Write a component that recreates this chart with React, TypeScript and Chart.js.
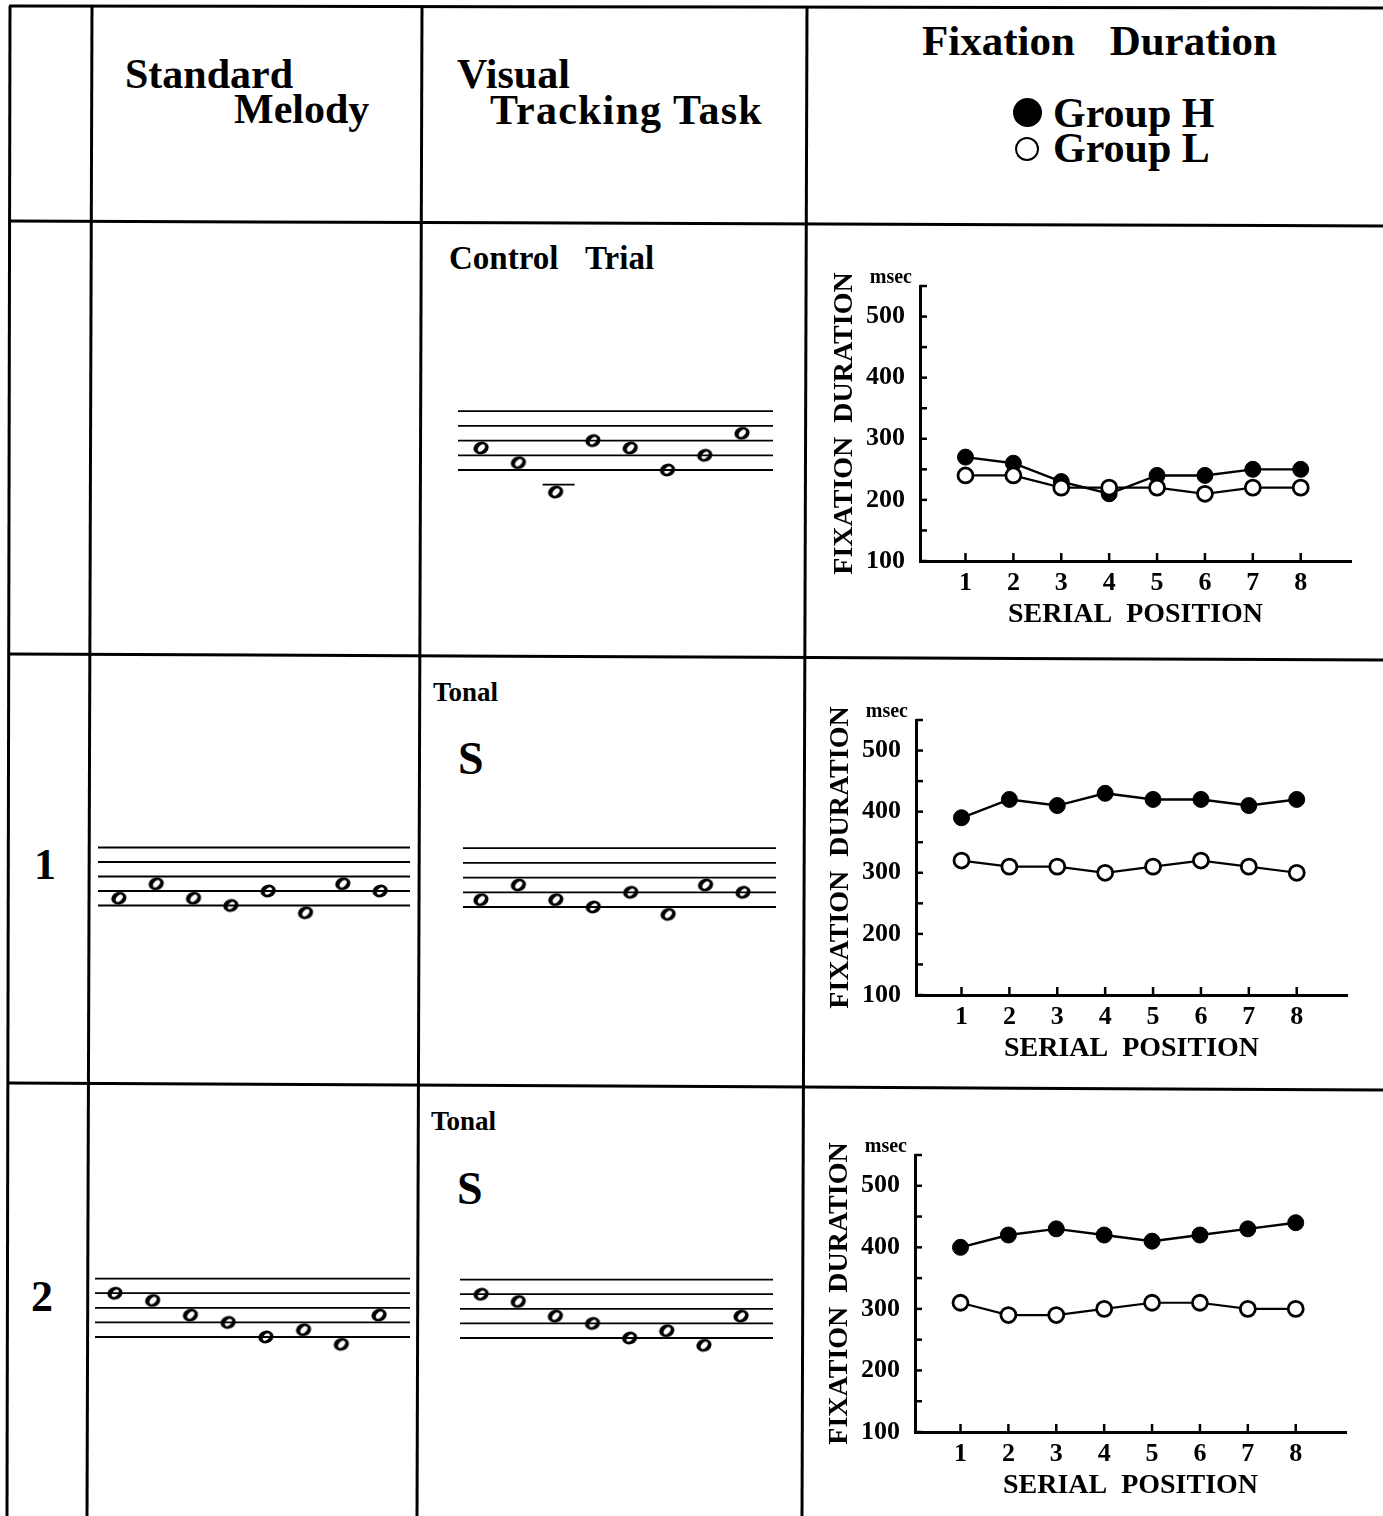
import React, { useEffect, useRef } from "react";
import { Chart, registerables } from "chart.js";

Chart.register(...registerables);

const FONT = '"Liberation Serif", "Times New Roman", Times, serif';

// ---------- Fixation duration data (msec) ----------
const SERIAL_POSITIONS = [1, 2, 3, 4, 5, 6, 7, 8];
const X_TICK_LABELS = ["1", "2", "3", "4", "5", "6", "7", "8"];
const Y_TICK_VALUES = [100, 150, 200, 250, 300, 350, 400, 450, 500, 550];
const Y_TICK_LABELS = ["100", "", "200", "", "300", "", "400", "", "500", ""];

const CONTROL_GROUP_H = [270, 260, 230, 210, 240, 240, 250, 250];
const CONTROL_GROUP_L = [240, 240, 220, 220, 220, 210, 220, 220];
const TRIAL1_GROUP_H = [390, 420, 410, 430, 420, 420, 410, 420];
const TRIAL1_GROUP_L = [320, 310, 310, 300, 310, 320, 310, 300];
const TRIAL2_GROUP_H = [400, 420, 430, 420, 410, 420, 430, 440];
const TRIAL2_GROUP_L = [310, 290, 290, 300, 310, 310, 300, 300];

// ---------- Melodies (staff steps: 0 = bottom line ... 8 = top line) ----------
const NOTE_ORDER = [1, 2, 3, 4, 5, 6, 7, 8];
const STAFF_LINE_STEPS = [0, 2, 4, 6, 8];
const CONTROL_TRIAL_NOTES = [3, 1, -3, 4, 3, 0, 2, 5];
const MELODY_1_NOTES = [1, 3, 1, 0, 2, -1, 3, 2];
const MELODY_2_NOTES = [6, 5, 3, 2, 0, 1, -1, 3];

// ---------- layout (positions only) ----------
type StaffBox = { left: number; right: number; bottom: number; hs: number; xmin: number; xmax: number };
const STAFF_CONTROL: StaffBox = { left: 458, right: 773, bottom: 470, hs: 7.35, xmin: 0.38, xmax: 8.83 };
const STAFF_MELODY_1: StaffBox = { left: 98, right: 410, bottom: 905.5, hs: 7.25, xmin: 0.44, xmax: 8.8 };
const STAFF_TASK_1: StaffBox = { left: 463, right: 776, bottom: 907, hs: 7.35, xmin: 0.52, xmax: 8.88 };
const STAFF_MELODY_2: StaffBox = { left: 95, right: 410, bottom: 1337, hs: 7.3, xmin: 0.47, xmax: 8.82 };
const STAFF_TASK_2: StaffBox = { left: 460, right: 773, bottom: 1338, hs: 7.3, xmin: 0.43, xmax: 8.86 };

type ChartBox = { left: number; top: number; height: number };
const BOX_CONTROL: ChartBox = { left: 920, top: 286, height: 275 };
const BOX_TRIAL1: ChartBox = { left: 916, top: 720, height: 275 };
const BOX_TRIAL2: ChartBox = { left: 915, top: 1155, height: 277 };

const Y_AXIS_W = 102;
const X_AXIS_H = 75;
const PAD_TOP = 40;
const PAD_RIGHT = 12;
const PAD_BOTTOM = 5;
const AREA_W = 431;

function makeNoteImage(): HTMLCanvasElement {
  const c = document.createElement("canvas");
  c.width = 20;
  c.height = 18;
  const ctx = c.getContext("2d")!;
  ctx.translate(10, 9);
  ctx.fillStyle = "#000";
  ctx.beginPath();
  ctx.ellipse(0, 0, 7.7, 6.3, -0.3, 0, Math.PI * 2);
  ctx.fill();
  ctx.globalCompositeOperation = "destination-out";
  ctx.beginPath();
  ctx.ellipse(0.3, 0, 4.3, 2.7, -0.85, 0, Math.PI * 2);
  ctx.fill();
  return c;
}

function Staff({ notes, box }: { notes: number[]; box: StaffBox }) {
  const ref = useRef<HTMLCanvasElement>(null);
  const H = 120;
  const W = box.right - box.left;
  const top = Math.round(box.bottom - 11 * box.hs);
  const ymax = (box.bottom - top) / box.hs;
  const ymin = ymax - H / box.hs;
  useEffect(() => {
    const img = makeNoteImage();
    const staffPlugin = {
      id: "staffLines",
      beforeDatasetsDraw(chart: any) {
        const { ctx, chartArea, scales } = chart;
        const y = scales.y;
        const x = scales.x;
        ctx.save();
        ctx.strokeStyle = "#000";
        ctx.lineWidth = 1.8;
        STAFF_LINE_STEPS.forEach((s) => {
          const py = y.getPixelForValue(s);
          ctx.beginPath();
          ctx.moveTo(chartArea.left, py);
          ctx.lineTo(chartArea.right, py);
          ctx.stroke();
        });
        // ledger lines for notes outside the staff
        notes.forEach((n, i) => {
          const px = x.getPixelForValue(NOTE_ORDER[i]);
          const ledgers: number[] = [];
          for (let k = -2; k >= n; k -= 2) ledgers.push(k);
          for (let k = 10; k <= n; k += 2) ledgers.push(k);
          ledgers.forEach((k) => {
            const py = y.getPixelForValue(k);
            ctx.beginPath();
            ctx.moveTo(px - 13, py);
            ctx.lineTo(px + 19, py);
            ctx.stroke();
          });
        });
        ctx.restore();
      },
    };
    const chart = new Chart(ref.current!, {
      type: "scatter",
      data: {
        datasets: [
          {
            data: NOTE_ORDER.map((x, i) => ({ x, y: notes[i] })),
            pointStyle: img as any,
            pointRadius: 7,
            showLine: false,
            clip: false as any,
          },
        ],
      },
      options: {
        animation: false,
        responsive: false,
        maintainAspectRatio: false,
        events: [],
        layout: { padding: 0, autoPadding: false },
        plugins: { legend: { display: false }, tooltip: { enabled: false } },
        scales: {
          x: { type: "linear", display: false, min: box.xmin, max: box.xmax },
          y: { type: "linear", display: false, min: ymin, max: ymax },
        },
      },
      plugins: [staffPlugin],
    });
    return () => chart.destroy();
  }, []);
  return (
    <canvas
      ref={ref}
      width={W}
      height={H}
      style={{ position: "absolute", left: box.left, top, width: W, height: H }}
    />
  );
}

function FixationChart({ h, l, box }: { h: number[]; l: number[]; box: ChartBox }) {
  const ref = useRef<HTMLCanvasElement>(null);
  const W = Y_AXIS_W + AREA_W + PAD_RIGHT;
  const H = PAD_TOP + box.height + X_AXIS_H + PAD_BOTTOM;
  useEffect(() => {
    const tickFont = { family: FONT, weight: "bold" as const, size: 26 };
    const titleFont = { family: FONT, weight: "bold" as const, size: 28 };
    const innerTicks = {
      id: "innerTicks",
      afterDatasetsDraw(chart: any) {
        const { ctx, chartArea, scales } = chart;
        ctx.save();
        ctx.strokeStyle = "#000";
        ctx.lineWidth = 2.5;
        scales.y.ticks.forEach((t: any) => {
          const py = scales.y.getPixelForValue(t.value);
          ctx.beginPath();
          ctx.moveTo(chartArea.left, py);
          ctx.lineTo(chartArea.left + 7, py);
          ctx.stroke();
        });
        scales.x.ticks.forEach((t: any) => {
          const px = scales.x.getPixelForValue(t.value);
          ctx.beginPath();
          ctx.moveTo(px, chartArea.bottom);
          ctx.lineTo(px, chartArea.bottom - 8);
          ctx.stroke();
        });
        ctx.fillStyle = "#000";
        ctx.font = `bold 20px ${FONT}`;
        ctx.textAlign = "right";
        ctx.textBaseline = "alphabetic";
        ctx.fillText("msec", chartArea.left - 8, chartArea.top - 3);
        ctx.restore();
      },
    };
    const chart = new Chart(ref.current!, {
      type: "line",
      data: {
        datasets: [
          {
            label: "Group L",
            data: SERIAL_POSITIONS.map((x, i) => ({ x, y: l[i] })),
            borderColor: "#000",
            borderWidth: 2.2,
            pointStyle: "circle",
            pointRadius: 7.5,
            pointBackgroundColor: "#fff",
            pointBorderColor: "#000",
            pointBorderWidth: 2.8,
          },
          {
            label: "Group H",
            data: SERIAL_POSITIONS.map((x, i) => ({ x, y: h[i] })),
            borderColor: "#000",
            borderWidth: 2.4,
            pointStyle: "circle",
            pointRadius: 8,
            pointBackgroundColor: "#000",
            pointBorderColor: "#000",
            pointBorderWidth: 1,
          },
        ],
      },
      options: {
        animation: false,
        responsive: false,
        maintainAspectRatio: false,
        events: [],
        layout: {
          padding: { top: PAD_TOP, right: PAD_RIGHT, bottom: PAD_BOTTOM, left: 0 },
          autoPadding: false,
        },
        plugins: { legend: { display: false }, tooltip: { enabled: false } },
        scales: {
          x: {
            type: "linear",
            min: 0.05,
            max: 9.05,
            afterBuildTicks: (s: any) => {
              s.ticks = SERIAL_POSITIONS.map((v) => ({ value: v }));
            },
            afterFit: (s: any) => {
              s.height = X_AXIS_H;
            },
            grid: { display: false, drawTicks: false },
            border: { display: true, color: "#000", width: 3 },
            ticks: {
              color: "#000",
              font: tickFont,
              padding: 7,
              autoSkip: false,
              maxRotation: 0,
              callback: (_v: any, i: number) => X_TICK_LABELS[i],
            },
            title: {
              display: true,
              text: "SERIAL  POSITION",
              color: "#000",
              font: titleFont,
              padding: { top: 0, bottom: 4 },
            },
          },
          y: {
            type: "linear",
            min: 100,
            max: 550,
            afterBuildTicks: (s: any) => {
              s.ticks = Y_TICK_VALUES.map((v) => ({ value: v }));
            },
            afterFit: (s: any) => {
              s.width = Y_AXIS_W;
            },
            grid: { display: false, drawTicks: false },
            border: { display: true, color: "#000", width: 3 },
            ticks: {
              color: "#000",
              font: tickFont,
              padding: 15,
              autoSkip: false,
              callback: (_v: any, i: number) => Y_TICK_LABELS[i],
            },
            title: {
              display: true,
              text: "FIXATION  DURATION",
              color: "#000",
              font: titleFont,
              padding: { top: 10, bottom: 0 },
            },
          },
        },
      },
      plugins: [innerTicks],
    });
    return () => chart.destroy();
  }, []);
  return (
    <canvas
      ref={ref}
      width={W}
      height={H}
      style={{
        position: "absolute",
        left: box.left - Y_AXIS_W,
        top: box.top - PAD_TOP,
        width: W,
        height: H,
      }}
    />
  );
}

function Txt({
  children,
  left,
  top,
  size,
  wordSpacing,
  letterSpacing,
}: {
  children: React.ReactNode;
  left: number;
  top: number;
  size: number;
  wordSpacing?: number;
  letterSpacing?: number;
}) {
  return (
    <div
      style={{
        position: "absolute",
        left,
        top,
        fontFamily: FONT,
        fontWeight: "bold",
        fontSize: size,
        lineHeight: `${size}px`,
        whiteSpace: "pre",
        color: "#000",
        wordSpacing: wordSpacing ?? 0,
        letterSpacing: letterSpacing ?? 0,
      }}
    >
      {children}
    </div>
  );
}

export default function App() {
  const lines: [number, number, number, number][] = [
    [10, 6, 7, 1516],
    [92, 6, 87, 1516],
    [422, 6, 417, 1516],
    [807, 6, 802, 1516],
    [9, 6, 1383, 8],
    [9, 221, 1383, 226],
    [9, 654, 1383, 660],
    [9, 1083, 1383, 1090],
  ];
  return (
    <div
      style={{
        position: "absolute",
        left: 0,
        top: 0,
        width: 1383,
        height: 1516,
        background: "#fff",
        overflow: "hidden",
      }}
    >
      <svg width={1383} height={1516} style={{ position: "absolute", left: 0, top: 0 }}>
        {lines.map(([x1, y1, x2, y2], i) => (
          <line key={i} x1={x1} y1={y1} x2={x2} y2={y2} stroke="#000" strokeWidth={3} />
        ))}
      </svg>

      <Txt left={125} top={53} size={42}>Standard</Txt>
      <Txt left={234} top={88} size={42}>Melody</Txt>
      <Txt left={457} top={53} size={42}>Visual</Txt>
      <Txt left={490} top={89} size={42} letterSpacing={1.2}>Tracking Task</Txt>
      <Txt left={922} top={19} size={43} wordSpacing={24}>Fixation Duration</Txt>

      <div
        style={{
          position: "absolute",
          left: 1013,
          top: 98,
          width: 29,
          height: 29,
          borderRadius: "50%",
          background: "#000",
        }}
      />
      <div
        style={{
          position: "absolute",
          left: 1015,
          top: 137,
          width: 20,
          height: 20,
          borderRadius: "50%",
          border: "2.5px solid #000",
        }}
      />
      <Txt left={1053} top={92} size={42}>Group H</Txt>
      <Txt left={1053} top={127} size={42}>Group L</Txt>

      <Txt left={449} top={242} size={33} wordSpacing={19}>Control Trial</Txt>
      <Txt left={433} top={679} size={27}>Tonal</Txt>
      <Txt left={458} top={736} size={46}>S</Txt>
      <Txt left={431} top={1108} size={27}>Tonal</Txt>
      <Txt left={457} top={1166} size={46}>S</Txt>
      <Txt left={34} top={843} size={44}>1</Txt>
      <Txt left={31} top={1275} size={44}>2</Txt>

      <Staff notes={CONTROL_TRIAL_NOTES} box={STAFF_CONTROL} />
      <Staff notes={MELODY_1_NOTES} box={STAFF_MELODY_1} />
      <Staff notes={MELODY_1_NOTES} box={STAFF_TASK_1} />
      <Staff notes={MELODY_2_NOTES} box={STAFF_MELODY_2} />
      <Staff notes={MELODY_2_NOTES} box={STAFF_TASK_2} />

      <FixationChart h={CONTROL_GROUP_H} l={CONTROL_GROUP_L} box={BOX_CONTROL} />
      <FixationChart h={TRIAL1_GROUP_H} l={TRIAL1_GROUP_L} box={BOX_TRIAL1} />
      <FixationChart h={TRIAL2_GROUP_H} l={TRIAL2_GROUP_L} box={BOX_TRIAL2} />
    </div>
  );
}
